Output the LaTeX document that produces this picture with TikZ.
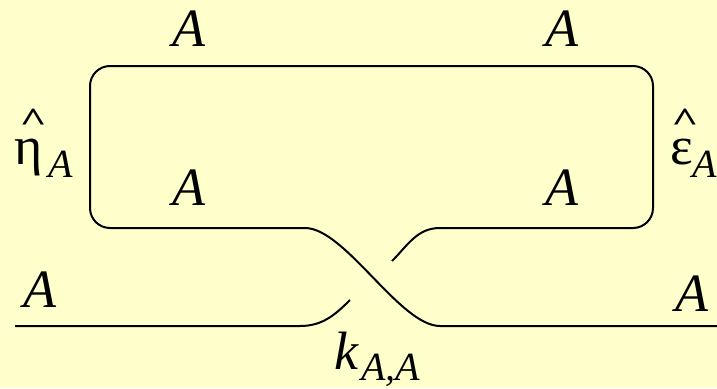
\documentclass[tikz,border=0pt]{standalone}
\usepackage{fontspec}
\setmainfont{Liberation Serif}
\definecolor{bg}{HTML}{FFFFCC}
\tikzset{
  strand/.style={line width=2pt, black},
  lab/.style={inner sep=0pt, font=\fontsize{54}{60}\selectfont\itshape},
  greek/.style={inner sep=0pt, font=\fontsize{54}{60}\selectfont},
  sublab/.style={inner sep=0pt, font=\fontsize{40}{44}\selectfont\itshape}
}
\newcommand{\myhat}[1]{\rlap{\raisebox{0.6em}{\hspace{#1}\fontsize{36}{40}\selectfont\bfseries\scalebox{1.3}[0.95]{\textasciicircum}}}}
\begin{document}
\begin{tikzpicture}[x=1pt,y=-1pt]
\fill[bg] (0,0) rectangle (717,388);
\useasboundingbox (0,0) rectangle (717,388);
% coordinates
\coordinate (ovl) at (305,228);
\coordinate (bl) at (90,228);
\coordinate (tl) at (90,66);
\coordinate (tr) at (653,66);
\coordinate (br) at (653,228);
\coordinate (unr) at (440,228);
\coordinate (gapu) at (392,261);
\coordinate (gapl) at (350,300);
\coordinate (ovr) at (440,326);
\coordinate (endr) at (717,326);
\coordinate (startl) at (15,326);
\coordinate (unl) at (300,326);
% loop
\draw[strand, rounded corners=20pt] (ovl) -- (bl) -- (tl) -- (tr) -- (br) -- (unr);
% over strand
\draw[strand] (ovl) .. controls (345,228) and (400,326) .. (ovr) -- (endr);
% under strand pieces
\draw[strand] (startl) -- (unl) to[out=0,in=-135] (gapl);
\draw[strand] (gapu) to[out=45,in=180] (unr);
% labels
\node[lab] (a1) at (189,29) {A};
\node[lab] (a2) at (562,29) {A};
\node[lab] (a3) at (189,188) {A};
\node[lab] (a4) at (562,188) {A};
\node[lab] (a5) at (40,290) {A};
\node[lab] (a6) at (692,294) {A};
% eta hat
\node[greek, anchor=base west] (eta) at (14,164) {\myhat{0.1em}η};
\node[sublab] (etasub) at (61,164) {A};
% epsilon hat
\node[greek, anchor=base west] (eps) at (670,164) {\myhat{0.02em}ε};
\node[sublab] (epssub) at (705,164) {A};
% k
\node[lab, anchor=base west] (k) at (334,369) {k};
\node[sublab, anchor=base west] (ksub) at (361,380) {A,A};
\end{tikzpicture}
\end{document}
